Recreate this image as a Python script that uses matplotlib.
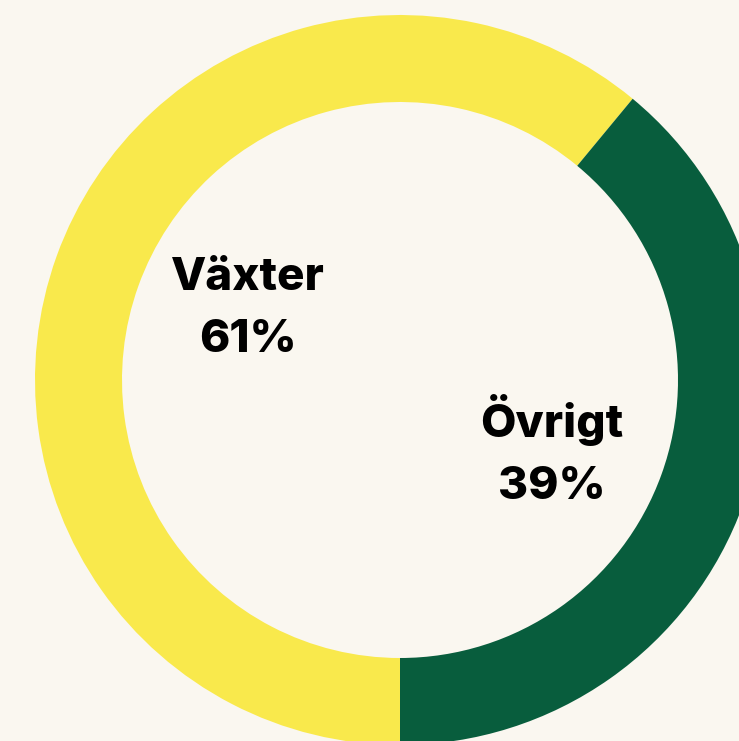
import matplotlib.pyplot as plt

labels = ["Växter", "Övrigt"]
shares = [61, 39]
colors = ["#F9E94C", "#085D3D"]
bg = "#FAF7F0"

fig = plt.figure(figsize=(7.39, 7.41), dpi=100, facecolor=bg)
ax = fig.add_axes([0, 0, 1, 1])
ax.set_facecolor(bg)

# donut, coordinates in pixels (y measured from bottom)
ax.pie(shares, colors=colors, radius=365, center=(400, 361),
       startangle=270, counterclock=False,
       wedgeprops=dict(width=87, linewidth=0))

ax.set_xlim(0, 739)
ax.set_ylim(0, 741)
ax.set_aspect("equal")
ax.axis("off")

label_pos = [(248, 451), (552, 304)]
for name, val, (x, y) in zip(labels, shares, label_pos):
    ax.text(x, y, name, ha="center", va="baseline", fontsize=33,
            fontweight="heavy", family="Inter", color="black")
    ax.text(x, y - 62, f"{val}%", ha="center", va="baseline", fontsize=33,
            fontweight="heavy", family="Inter", color="black")

fig.savefig("out.png", dpi=100, facecolor=bg)
